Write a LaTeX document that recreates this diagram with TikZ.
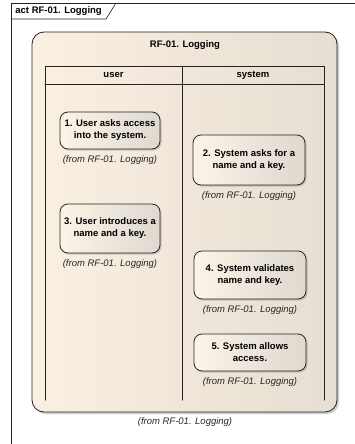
\documentclass[tikz,border=0pt]{standalone}
\usepackage{fontspec}
\setmainfont{Liberation Sans}
\usetikzlibrary{shadows}
\definecolor{regionleft}{RGB}{250,240,226}
\definecolor{regionmid}{RGB}{247,237,223}
\definecolor{regionright}{RGB}{230,222,210}
\definecolor{actleft}{RGB}{252,244,232}
\definecolor{actmid}{RGB}{247,238,225}
\definecolor{actright}{RGB}{222,216,207}
\definecolor{edge}{RGB}{35,35,35}
\begin{document}
\begin{tikzpicture}[x=1pt, y=-1pt, line join=round, line cap=round, line width=0.8pt]
            \tikzset{action/.style={draw=edge, rounded corners=8pt, left color=actleft, middle color=actmid, right color=actright,
                        drop shadow={shadow xshift=1.5pt, shadow yshift=-1.5pt, fill=black!40},
                        align=center, font=\fontsize{9.5}{12}\selectfont\bfseries, inner sep=2pt},
                     fromlabel/.style={font=\fontsize{9.5}{11}\selectfont\itshape, text=black!85, inner sep=0pt},
                     lanehead/.style={font=\fontsize{9.5}{11}\selectfont\bfseries, inner sep=0pt}}
            \useasboundingbox (0,0) rectangle (354,444);
            % frame of the activity
            \draw[edge, line width=0.6pt] (11,460) -- (11,3) -- (370,3);
            \draw[edge, line width=0.6pt] (11,19) -- (106,19) -- (116,3);
            \node[lanehead, anchor=west] (frametitle) at (15,11) {act RF-01. Logging};
            % region with the two lanes
            \draw[edge, rounded corners=12pt, left color=regionleft, middle color=regionmid, right color=regionright,
                  drop shadow={shadow xshift=2pt, shadow yshift=-2pt, fill=black!40}] (32,32) rectangle (337,412);
            \node[lanehead] (regiontitle) at (185,45) {RF-01. Logging};
            \draw[edge, line width=1pt] (45,400) -- (45,66) -- (324,66) -- (324,400);
            \draw[edge, line width=1pt] (45,84) -- (324,84);
            \draw[edge, line width=1pt] (182,66) -- (182,400);
            \node[lanehead] (userlane) at (113.5,75) {user};
            \node[lanehead] (systemlane) at (253,75) {system};
            % actions
            \node[action, minimum width=100pt, minimum height=37pt] (ask) at (110,130.5) {1. User asks access\\into the system.};
            \node[action, minimum width=112pt, minimum height=50pt] (askkey) at (249,160) {2. System asks for a\\name and a key.};
            \node[action, minimum width=100pt, minimum height=49pt] (introduce) at (110,228.5) {3. User introduces a\\name and a key.};
            \node[action, minimum width=112pt, minimum height=48pt] (validate) at (250,275) {4. System validates\\name and key.};
            \node[action, minimum width=112pt, minimum height=37pt] (allow) at (250,352.5) {5. System allows\\access.};
            \node[fromlabel] (askfrom) at (110,160) {(from RF-01. Logging)};
            \node[fromlabel] (askkeyfrom) at (249,196) {(from RF-01. Logging)};
            \node[fromlabel] (introducefrom) at (110,264) {(from RF-01. Logging)};
            \node[fromlabel] (validatefrom) at (250,310) {(from RF-01. Logging)};
            \node[fromlabel] (allowfrom) at (250,382) {(from RF-01. Logging)};
            \node[fromlabel] (regionfrom) at (185,422) {(from RF-01. Logging)};
        \end{tikzpicture}
\end{document}
